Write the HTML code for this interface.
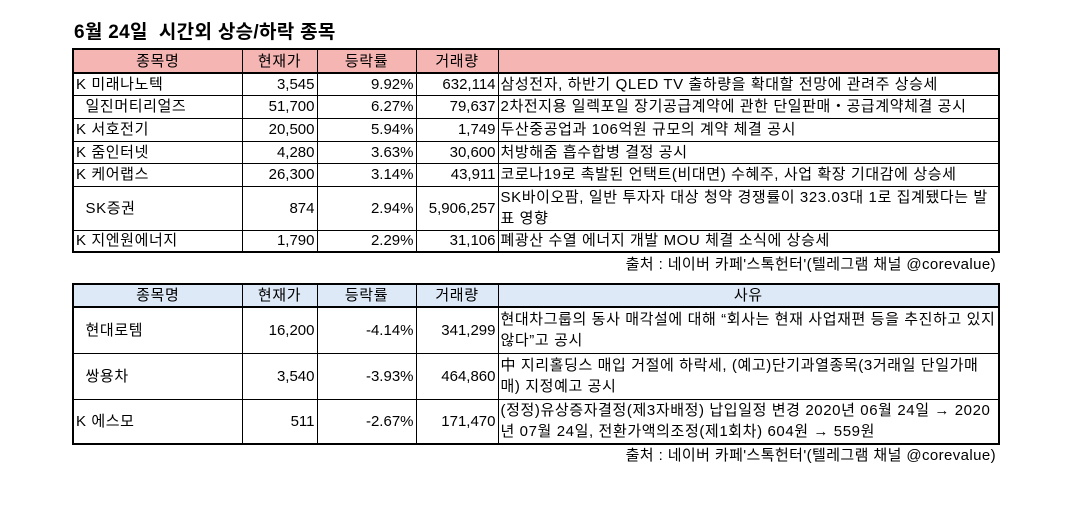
<!DOCTYPE html>
<html><head><meta charset="utf-8">
<style>
body{margin:0;width:1086px;height:508px;background:#fff;position:relative;overflow:hidden;font-family:"Liberation Sans","Noto Sans CJK KR",sans-serif;color:#000}
.title{position:absolute;left:74px;top:17px;font-size:19px;font-weight:bold;letter-spacing:0.3px}
table{position:absolute;left:72px;border-collapse:collapse;table-layout:fixed;font-size:15px;letter-spacing:0.6px}
td{border:1px solid #000;padding:0 2px;white-space:nowrap;overflow:hidden;line-height:19px}
.h td{text-align:center;border-bottom:2px solid #000}
.t1 .h td{background:#f4b5b3}
.t2 .h td{background:#dde9f6}
table{border:2px solid #000}
.r{text-align:right;letter-spacing:0}
.w{white-space:normal;line-height:21px;vertical-align:middle}
.src{position:absolute;right:90px;font-size:15px;letter-spacing:0.4px}
</style></head><body>
<div class="title">6월 24일 &nbsp;시간외 상승/하락 종목</div>
<table class="t1" style="top:48px;width:926px">
<colgroup><col style="width:169px"><col style="width:75px"><col style="width:99px"><col style="width:82px"><col style="width:501px"></colgroup>
<tr class="h" style="height:24px"><td>종목명</td><td>현재가</td><td>등락률</td><td>거래량</td><td></td></tr>
<tr style="height:22px"><td>K 미래나노텍</td><td class="r">3,545</td><td class="r">9.92%</td><td class="r">632,114</td><td>삼성전자, 하반기 QLED TV 출하량을 확대할 전망에 관려주 상승세</td></tr>
<tr style="height:23px"><td>&nbsp;&nbsp;일진머티리얼즈</td><td class="r">51,700</td><td class="r">6.27%</td><td class="r">79,637</td><td>2차전지용 일렉포일 장기공급계약에 관한 단일판매・공급계약체결 공시</td></tr>
<tr style="height:23px"><td>K 서호전기</td><td class="r">20,500</td><td class="r">5.94%</td><td class="r">1,749</td><td>두산중공업과 106억원 규모의 계약 체결 공시</td></tr>
<tr style="height:22px"><td>K 줌인터넷</td><td class="r">4,280</td><td class="r">3.63%</td><td class="r">30,600</td><td>처방해줌 흡수합병 결정 공시</td></tr>
<tr style="height:23px"><td>K 케어랩스</td><td class="r">26,300</td><td class="r">3.14%</td><td class="r">43,911</td><td>코로나19로 촉발된 언택트(비대면) 수혜주, 사업 확장 기대감에 상승세</td></tr>
<tr style="height:44px"><td>&nbsp;&nbsp;SK증권</td><td class="r">874</td><td class="r">2.94%</td><td class="r">5,906,257</td><td class="w" style="vertical-align:top">SK바이오팜, 일반 투자자 대상 청약 경쟁률이 323.03대 1로 집계됐다는 발표 영향</td></tr>
<tr style="height:22px"><td>K 지엔원에너지</td><td class="r">1,790</td><td class="r">2.29%</td><td class="r">31,106</td><td>폐광산 수열 에너지 개발 MOU 체결 소식에 상승세</td></tr>
</table>
<div class="src" style="top:253px">출처 : 네이버 카페'스톡헌터'(텔레그램 채널 @corevalue)</div>
<table class="t2" style="top:283px;width:926px">
<colgroup><col style="width:169px"><col style="width:75px"><col style="width:99px"><col style="width:82px"><col style="width:501px"></colgroup>
<tr class="h" style="height:23px"><td>종목명</td><td>현재가</td><td>등락률</td><td>거래량</td><td>사유</td></tr>
<tr style="height:46px"><td>&nbsp;&nbsp;현대로템</td><td class="r">16,200</td><td class="r">-4.14%</td><td class="r">341,299</td><td class="w">현대차그룹의 동사 매각설에 대해 “회사는 현재 사업재편 등을 추진하고 있지 않다”고 공시</td></tr>
<tr style="height:46px"><td>&nbsp;&nbsp;쌍용차</td><td class="r">3,540</td><td class="r">-3.93%</td><td class="r">464,860</td><td class="w">中 지리홀딩스 매입 거절에 하락세, (예고)단기과열종목(3거래일 단일가매매) 지정예고 공시</td></tr>
<tr style="height:45px"><td>K 에스모</td><td class="r">511</td><td class="r">-2.67%</td><td class="r">171,470</td><td class="w">(정정)유상증자결정(제3자배정) 납입일정 변경 2020년 06월 24일 → 2020년 07월 24일, 전환가액의조정(제1회차) 604원 → 559원</td></tr>
</table>
<div class="src" style="top:444px">출처 : 네이버 카페'스톡헌터'(텔레그램 채널 @corevalue)</div>
</body></html>
